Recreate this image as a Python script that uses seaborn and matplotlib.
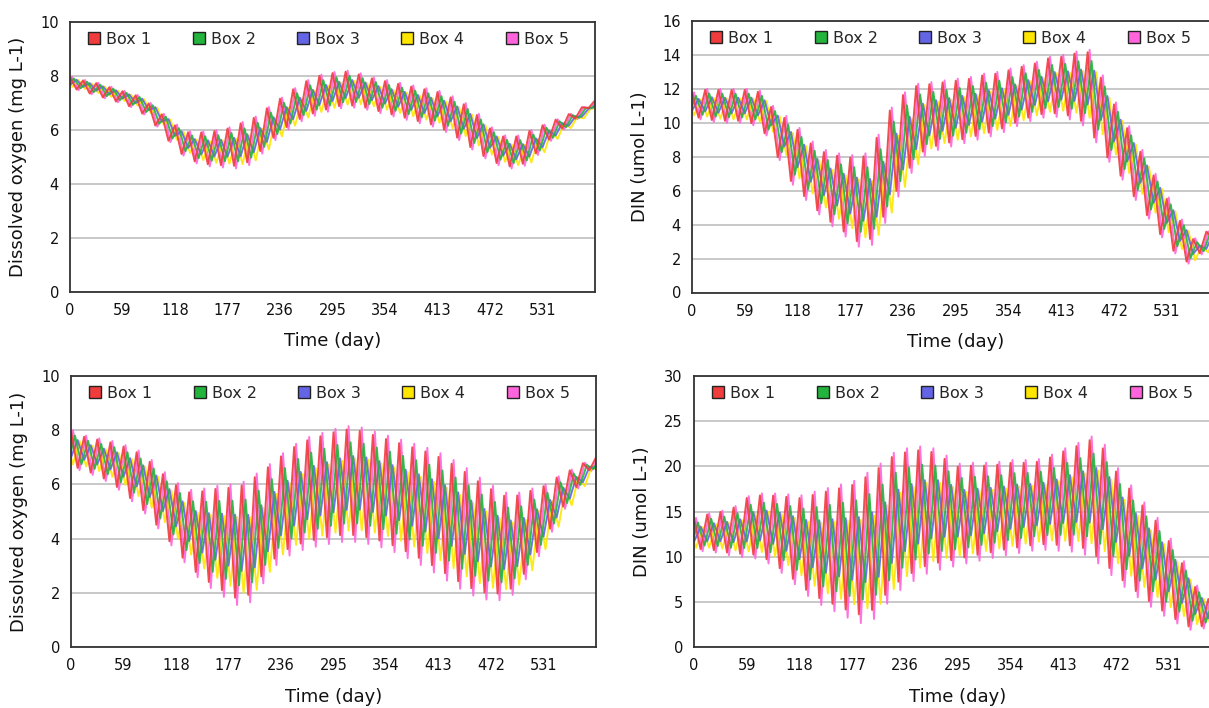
import numpy as np
import pandas as pd
import matplotlib
matplotlib.use("Agg")
import matplotlib.pyplot as plt
import seaborn as sns
from matplotlib.lines import Line2D

# ---------------- data ----------------
boxes = ["Box 1", "Box 2", "Box 3", "Box 4", "Box 5"]
box_colors = ["#f03c3c", "#22b43c", "#6464e6", "#ffe600", "#ff64dc"]

period_days = 14.75   # spring-neap cycle seen in every panel
cycle_day = [0, 14.75, 29.5, 44.25, 59, 73.75, 88.5, 103.25, 118, 132.75,
             147.5, 162.25, 177, 191.75, 206.5, 221.25, 236, 250.75, 265.5, 280.25,
             295, 309.75, 324.5, 339.25, 354, 368.75, 383.5, 398.25, 413, 427.75,
             442.5, 457.25, 472, 486.75, 501.5, 516.25, 531, 545.75, 560.5, 575.25, 590]

# outer envelope (highest peak / lowest trough) of each tidal cycle
do_top_upper = [7.97, 7.85, 7.75, 7.6, 7.45, 7.3, 7.0, 6.6, 6.2, 5.95,
                5.95, 6.0, 6.1, 6.3, 6.5, 6.85, 7.2, 7.55, 7.85, 8.05,
                8.15, 8.2, 8.1, 7.95, 7.85, 7.75, 7.65, 7.55, 7.45, 7.25,
                7.0, 6.6, 6.1, 5.8, 5.8, 6.0, 6.2, 6.4, 6.6, 6.85, 7.1]
do_top_lower = [7.55, 7.4, 7.25, 7.1, 6.95, 6.75, 6.4, 5.85, 5.25, 4.85,
                4.68, 4.62, 4.6, 4.55, 4.85, 5.4, 5.85, 6.2, 6.45, 6.6,
                6.75, 6.85, 6.8, 6.7, 6.55, 6.45, 6.3, 6.2, 6.05, 5.8,
                5.45, 5.1, 4.8, 4.6, 4.55, 4.8, 5.35, 5.85, 6.2, 6.6, 7.0]

din_top_upper = [11.8, 12.0, 12.0, 12.0, 12.0, 11.9, 11.0, 10.4, 9.7, 8.9,
                 8.4, 8.2, 8.1, 8.2, 9.3, 10.9, 11.8, 12.3, 12.4, 12.5,
                 12.6, 12.7, 12.9, 13.0, 13.2, 13.4, 13.6, 13.9, 14.0, 14.2,
                 14.3, 12.8, 11.2, 9.8, 8.4, 7.0, 5.6, 4.3, 3.2, 3.6, 3.7]
din_top_lower = [10.3, 10.1, 10.0, 10.0, 10.0, 9.7, 8.8, 6.8, 5.9, 5.0,
                 4.2, 3.6, 3.0, 2.4, 3.2, 5.0, 6.3, 7.8, 8.3, 8.5,
                 8.7, 8.9, 9.1, 9.3, 9.6, 10.0, 10.2, 10.4, 10.3, 10.1,
                 9.6, 8.1, 7.3, 6.0, 4.9, 3.8, 2.7, 1.9, 1.5, 3.0, 3.3]

do_bot_upper = [8.0, 7.8, 7.7, 7.6, 7.45, 7.25, 6.9, 6.45, 6.05, 5.8,
                5.85, 5.95, 6.0, 6.1, 6.4, 6.75, 7.15, 7.5, 7.75, 7.9,
                8.05, 8.15, 8.1, 7.95, 7.8, 7.65, 7.5, 7.35, 7.15, 6.9,
                6.6, 6.25, 5.95, 5.7, 5.7, 5.85, 6.0, 6.3, 6.55, 6.8, 7.0]
do_bot_lower = [6.6, 6.45, 6.25, 6.0, 5.6, 5.15, 4.7, 4.05, 3.45, 2.8,
                2.35, 2.0, 1.7, 1.4, 1.9, 2.8, 3.25, 3.5, 3.65, 3.75,
                3.85, 3.9, 3.85, 3.75, 3.6, 3.4, 3.15, 2.9, 2.6, 2.3,
                2.0, 1.8, 1.7, 1.75, 2.1, 2.9, 3.8, 4.7, 5.5, 6.2, 6.8]

din_bot_upper = [14.3, 14.8, 15.1, 15.6, 16.7, 17.0, 17.0, 16.9, 16.8, 17.2,
                 17.6, 18.0, 18.4, 19.3, 20.3, 21.5, 22.0, 22.2, 22.0, 21.2,
                 20.3, 20.4, 20.4, 20.5, 20.7, 20.7, 20.8, 21.3, 22.0, 22.6,
                 23.3, 22.4, 19.8, 17.9, 16.0, 14.3, 12.0, 9.5, 6.8, 5.4, 5.0]
din_bot_lower = [10.6, 10.6, 10.3, 10.0, 9.9, 9.7, 8.8, 7.6, 6.3, 5.0,
                 4.3, 3.6, 2.9, 2.4, 3.8, 5.8, 6.8, 7.8, 8.4, 8.7,
                 9.1, 9.4, 9.7, 10.0, 10.3, 10.5, 10.8, 10.7, 10.6, 10.5,
                 9.9, 8.6, 7.3, 6.0, 5.0, 3.9, 3.0, 2.2, 1.6, 2.5, 3.5]

# where each box's peaks / troughs sit inside the envelope, and its phase lag
box_peak_frac = [0.97, 0.86, 0.74, 0.72, 1.00]
box_trough_frac = [0.06, 0.16, 0.28, 0.10, 0.00]
box_phase = [0.00, 0.30, 0.50, 0.65, 0.15]

x_ticks = [0, 59, 118, 177, 236, 295, 354, 413, 472, 531]
x_max = 590

panels = [
    dict(upper=do_top_upper, lower=do_top_lower, ylabel="Dissolved oxygen (mg L-1)",
         yticks=[0, 2, 4, 6, 8, 10], pos=[70, 22, 525, 270]),
    dict(upper=din_top_upper, lower=din_top_lower, ylabel="DIN (umol L-1)",
         yticks=[0, 2, 4, 6, 8, 10, 12, 14, 16], pos=[692, 21, 527.5, 271.5]),
    dict(upper=do_bot_upper, lower=do_bot_lower, ylabel="Dissolved oxygen (mg L-1)",
         yticks=[0, 2, 4, 6, 8, 10], pos=[71, 376, 525, 271]),
    dict(upper=din_bot_upper, lower=din_bot_lower, ylabel="DIN (umol L-1)",
         yticks=[0, 5, 10, 15, 20, 25, 30], pos=[694, 376, 527.5, 271]),
]


def turning_points(upper, lower):
    rows = []
    n = len(upper)
    for b, name in enumerate(boxes):
        for k in range(-1, n):
            k0 = min(max(k, 0), n - 1)
            k1 = min(max(k + 1, 0), n - 1)
            u0, l0 = upper[k0], lower[k0]
            tp = (k + box_phase[b]) * period_days
            rows.append((tp, l0 + box_peak_frac[b] * (u0 - l0), name))
            um, lm = (upper[k0] + upper[k1]) / 2, (lower[k0] + lower[k1]) / 2
            tt = (k + 0.5 + box_phase[b]) * period_days
            rows.append((tt, lm + box_trough_frac[b] * (um - lm), name))
    return pd.DataFrame(rows, columns=["day", "value", "box"])


# ---------------- style ----------------
sns.set_style("white")
plt.rcParams["font.family"] = ["DejaVu Sans"]

W, H = 1209, 708
fig = plt.figure(figsize=(W / 100, H / 100), dpi=100)
palette = dict(zip(boxes, box_colors))
edge = "#333333"

for p in panels:
    x0, y0, w, h = p["pos"]
    ax = fig.add_axes([x0 / W, 1 - (y0 + h) / H, w / W, h / H])
    df = turning_points(p["upper"], p["lower"])
    sns.lineplot(data=df, x="day", y="value", hue="box", hue_order=boxes[::-1],
                 palette=palette, estimator=None, sort=False, lw=1.4, alpha=0.9,
                 legend=False, ax=ax)
    ax.set_xlim(0, x_max)
    ax.set_ylim(p["yticks"][0], p["yticks"][-1])
    ax.set_xticks(x_ticks)
    ax.set_yticks(p["yticks"])
    ax.tick_params(axis="both", direction="out", length=5, width=1.2, color=edge,
                   labelsize=10.5, labelcolor="#111111", pad=3)
    ax.yaxis.grid(True, color="#c8c8c8", lw=1.4)
    ax.xaxis.grid(False)
    ax.set_axisbelow(True)
    for s in ax.spines.values():
        s.set_color(edge)
        s.set_linewidth(1.3)
    ax.set_xlabel("Time (day)", fontsize=13, color="#111111")
    ax.set_ylabel(p["ylabel"], fontsize=13, color="#111111")
    ax.xaxis.set_label_coords(0.5, -0.15)
    ax.yaxis.set_label_coords(-0.082, 0.5)
    handles = [Line2D([], [], ls="", marker="s", markersize=8.5, markerfacecolor=c,
                      markeredgecolor="#222222", markeredgewidth=1.0)
               for c in box_colors]
    ax.legend(handles, boxes, loc="upper left", bbox_to_anchor=(0.014, 1.005),
              ncol=5, frameon=False, fontsize=11.5, handlelength=0.7,
              handletextpad=0.4, columnspacing=2.62, borderaxespad=0.3)

fig.savefig("out.png", dpi=100)
